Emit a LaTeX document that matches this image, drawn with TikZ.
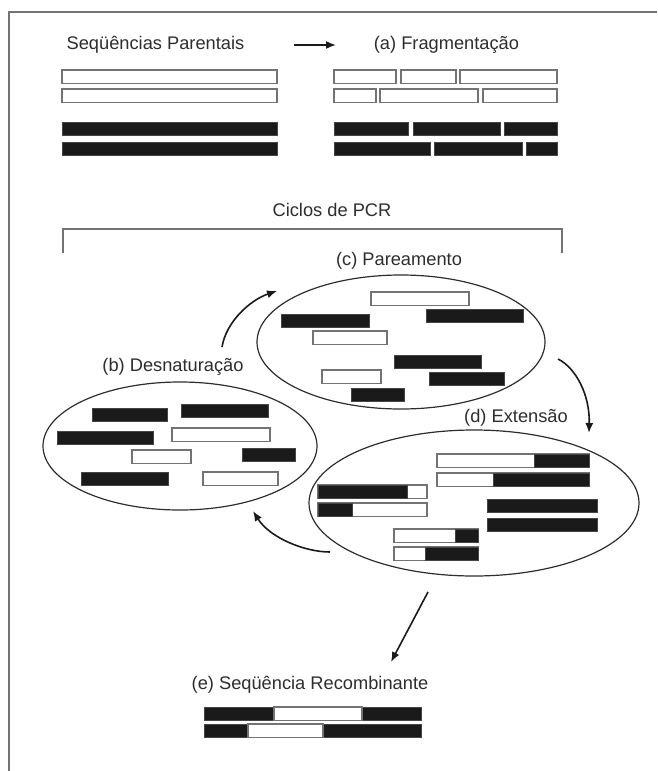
\documentclass[tikz,border=0pt]{standalone}
\usepackage{fontspec}
\setmainfont{Liberation Sans}
\usetikzlibrary{arrows.meta,shapes.geometric}
\definecolor{inkgray}{RGB}{45,45,45}
\definecolor{rimgray}{RGB}{115,115,115}
\definecolor{barblack}{RGB}{26,26,26}
\newcommand{\px}{0.75pt}
\tikzset{
  >=Latex,
  wbar/.style={draw=rimgray, fill=white, line width=1.1*\px},
  bbar/.style={draw=rimgray!60!black, fill=barblack, line width=0.8*\px},
  cell/.style={ellipse, draw=inkgray, line width=1.2*\px, inner sep=0pt},
  lbl/.style={inner sep=0pt, text=inkgray, font=\fontsize{13.7}{16}\selectfont},
  flow/.style={-{Latex[length=7.5pt, width=6pt]}, line width=1.6*\px, draw=barblack},
}

\begin{document}
\begin{tikzpicture}[x=0.75pt, y=-0.75pt]
\useasboundingbox (0,0) rectangle (657,771);

% --- frame and bracket ---
\draw[rimgray, line width=1.5*\px] (9,771) -- (9,12) -- (657,12);
\draw[rimgray, line width=1.3*\px] (63,253) -- (63,229) -- (562,229) -- (562,253);

% --- labels ---
\node[lbl] (parent) at (155.5,45) {Seqüências Parentais};
\node[lbl] (frag)   at (446.5,45) {(a) Fragmentação};
\node[lbl] (ciclos) at (332,210)  {Ciclos de PCR};
\node[lbl] (parea)  at (399,261)  {(c) Pareamento};
\node[lbl] (desnat) at (173,367)  {(b) Desnaturação};
\node[lbl] (exten)  at (516,418)  {(d) Extensão};
\node[lbl] (recomb) at (310,685)  {(e) Seqüência Recombinante};

% --- reaction pools ---
\node[cell, minimum width=288*\px, minimum height=134*\px] (cellc) at (401,342) {};
\node[cell, minimum width=274*\px, minimum height=128*\px] (cellb) at (180,446) {};
\node[cell, minimum width=330*\px, minimum height=146*\px] (celld) at (474,503) {};

% --- parental and fragmented strands ---
\foreach \xa/\xb/\ya in {62/277/70, 62/277/89, 334/396/70, 401/456/70, 460/557/70,
                         334/376/89, 380/478/89, 483/557/89}
  \draw[wbar] (\xa,\ya) rectangle (\xb,\ya+13.5);
\foreach \xa/\xb/\ya in {62/277/122, 62/277/142, 334/408/122, 413/500/122, 504/557/122,
                         334/430/142, 434/522/142, 526/557/142}
  \draw[bbar] (\xa,\ya) rectangle (\xb,\ya+13.5);

% --- (c) annealing ---
\foreach \xa/\xb/\ya in {371/469/292, 313/387/331, 322/381/370}
  \draw[wbar] (\xa,\ya) rectangle (\xb,\ya+13.5);
\foreach \xa/\xb/\ya in {426/523/309, 281/369/314, 394/481/355, 429/504/372, 351/404/388}
  \draw[bbar] (\xa,\ya) rectangle (\xb,\ya+13.5);

% --- (b) denaturation ---
\foreach \xa/\xb/\ya in {172/270/428, 132/191/450, 203/278/472}
  \draw[wbar] (\xa,\ya) rectangle (\xb,\ya+13.5);
\foreach \xa/\xb/\ya in {92/167/408, 181/268/404, 57/153/431, 242/295/448, 81/168/472}
  \draw[bbar] (\xa,\ya) rectangle (\xb,\ya+13.5);

% --- (d) extension ---
\foreach \xa/\xm/\xb/\ya in {437/534/589/454, 437/493/589/473, 394/455/478/529, 394/425/478/547} {
  \draw[wbar] (\xa,\ya) rectangle (\xb,\ya+13.5);
  \draw[bbar] (\xm,\ya) rectangle (\xb,\ya+13.5);
}
\foreach \xa/\xm/\xb/\ya in {318/407/427/485, 318/352/427/503} {
  \draw[wbar] (\xa,\ya) rectangle (\xb,\ya+13.5);
  \draw[bbar] (\xa,\ya) rectangle (\xm,\ya+13.5);
}
\foreach \xa/\xb/\ya in {487/597/499, 487/597/518}
  \draw[bbar] (\xa,\ya) rectangle (\xb,\ya+13.5);

% --- (e) recombinant ---
\foreach \xa/\xm/\xn/\xb/\ya in {204/274/362/421/707, 204/248/323/421/724} {
  \draw[bbar] (\xa,\ya) rectangle (\xb,\ya+13.5);
  \draw[wbar] (\xm,\ya) rectangle (\xn,\ya+13.5);
}

% --- arrows ---
\coordinate (pa-out) at (294,45);
\coordinate (pa-in)  at (336,45);
\coordinate (bc-out) at (222,347);
\coordinate (bc-in)  at (277,291);
\coordinate (cd-out) at (558,359);
\coordinate (cd-in)  at (589,433);
\coordinate (db-out) at (330,552);
\coordinate (db-in)  at (253,511);
\coordinate (de-out) at (428,592);
\coordinate (de-in)  at (391,662);

\draw[flow] (pa-out) -- (pa-in);
\draw[flow] (bc-out) .. controls (226,322) and (250,300) .. (bc-in);
\draw[flow] (cd-out) .. controls (576,368) and (590,395) .. (cd-in);
\draw[flow] (db-out) .. controls (305,552) and (270,538) .. (db-in);
\draw[flow] (de-out) -- (de-in);

\end{tikzpicture}
\end{document}
